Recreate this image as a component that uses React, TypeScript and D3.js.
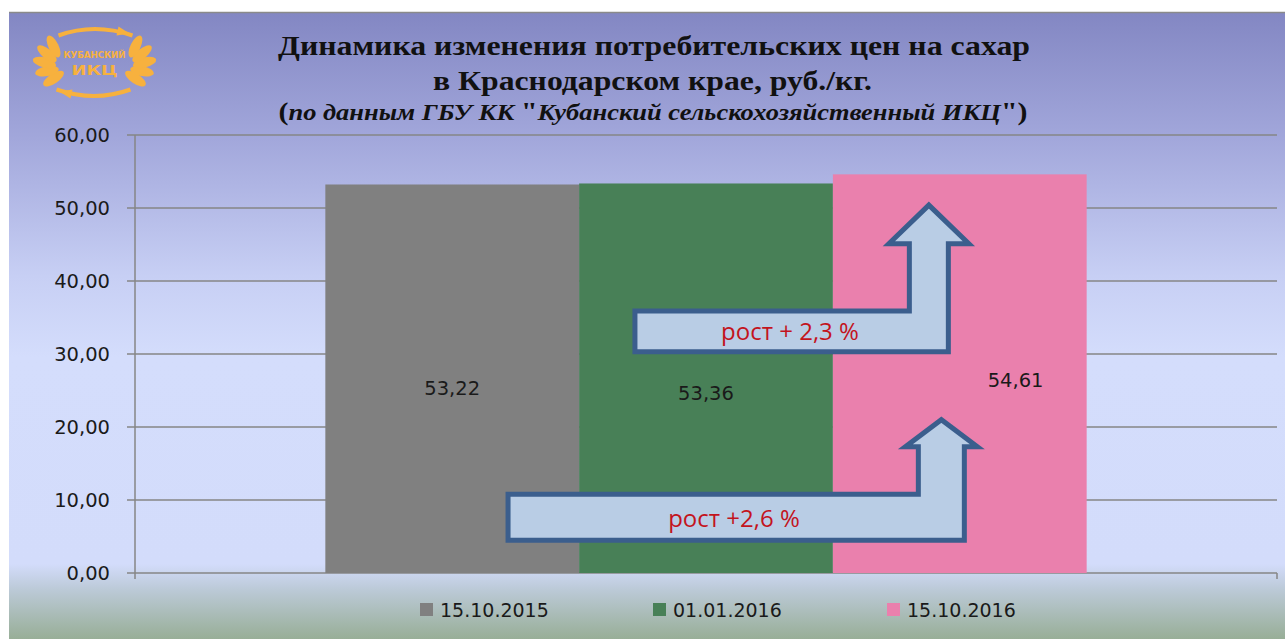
import React from "react";
import * as d3 from "d3";

const categories = ["15.10.2015", "01.01.2016", "15.10.2016"];
const values = [53.22, 53.36, 54.61];
const colors = ["#808080", "#488057", "#ea80ad"];
const yTicks = [0, 10, 20, 30, 40, 50, 60];
const titleLines = ["Динамика изменения потребительских цен на сахар", "в Краснодарском крае, руб./кг."];
const subtitleParts = [
  { t: "(", it: false },
  { t: "по данным ГБУ КК ", it: true },
  { t: "\"", it: false },
  { t: "Кубанский сельскохозяйственный ИКЦ", it: true },
  { t: "\")", it: false },
];
const growthLabels = ["рост + 2,3 %", "рост +2,6 %"];

const W = 1285;
const H = 639;
const fmt = (v: number) => v.toFixed(2).replace(".", ",");

export default function App() {
  const plot = { left: 135, right: 1277, top: 135, bottom: 573 };
  const y = d3.scaleLinear().domain([0, 60]).range([plot.bottom, plot.top]);
  const outer = d3.scaleBand().domain(["c"]).range([plot.left, plot.right]).paddingInner(0).paddingOuter(0);
  // gap width 150%
  const band = outer.bandwidth();
  const barsW = band / (1 + 1.5 / 3);
  const x0 = (outer("c") as number) + (band - barsW) / 2;
  const x = d3.scaleBand().domain(categories).range([x0, x0 + barsW]).padding(0);
  const bw = x.bandwidth();

  const labelShift = [
    { dx: 0, dv: -1.2 },
    { dx: 0, dv: -2.0 },
    { dx: 0.22, dv: -0.8 },
  ];

  const arrowPath = (
    xl: number, xr: number, shaftW: number, headHalf: number,
    vBodyTop: number, vBodyBot: number, vHeadBase: number, vTip: number
  ) => {
    const xsL = xr - shaftW;
    const xc = xr - shaftW / 2;
    const p = d3.path();
    p.moveTo(xl, y(vBodyBot));
    p.lineTo(xr, y(vBodyBot));
    p.lineTo(xr, y(vHeadBase));
    p.lineTo(xc + headHalf, y(vHeadBase));
    p.lineTo(xc, y(vTip));
    p.lineTo(xc - headHalf, y(vHeadBase));
    p.lineTo(xsL, y(vHeadBase));
    p.lineTo(xsL, y(vBodyTop));
    p.lineTo(xl, y(vBodyTop));
    p.closePath();
    return p.toString();
  };

  const xs = (i: number, f: number) => (x(categories[i]) as number) + f * bw;

  const upper = arrowPath(xs(1, 0.22), xs(2, 0.455), 39, 40, 35.9, 30.3, 45.1, 50.4);
  const lower = arrowPath(xs(0, 0.72), xs(2, 0.518), 46, 36, 10.8, 4.5, 17.3, 21.0);

  const legendX = [420, 653, 887];

  const orange = "#f7b13e";
  const leafAngles = [145, 162, 180, 198, 215];

  return (
    <svg width={W} height={H} style={{ position: "absolute", left: 0, top: 0 }} xmlns="http://www.w3.org/2000/svg">
      <defs>
        <linearGradient id="bg" x1="0" y1="0" x2="0" y2="1">
          <stop offset="0" stopColor="#8387c3" />
          <stop offset="0.2" stopColor="#a2a7db" />
          <stop offset="0.42" stopColor="#c7cff4" />
          <stop offset="0.55" stopColor="#d4ddfc" />
          <stop offset="0.88" stopColor="#d3dcfb" />
          <stop offset="0.92" stopColor="#bccad8" />
          <stop offset="1" stopColor="#98ae97" />
        </linearGradient>
      </defs>
      <rect x={0} y={0} width={W} height={H} fill="#ffffff" />
      <rect x={9} y={13} width={W - 9} height={H - 13} fill="url(#bg)" />
      <line x1={9} x2={W} y1={12.5} y2={12.5} stroke="#8a8a8a" strokeWidth={1.5} />

      {/* logo */}
      <g transform="translate(94.5,62.5)">
        {leafAngles.map((a, i) => {
          const r = (a * Math.PI) / 180;
          const cx = 50 * Math.cos(r);
          const cy = 28 * Math.sin(r);
          const rot = (a - 180) * 1.4 + 15;
          return (
            <g key={i}>
              <ellipse cx={cx} cy={cy} rx={12} ry={5} fill={orange}
                transform={`rotate(${rot},${cx},${cy})`} />
              <ellipse cx={-cx} cy={cy} rx={12} ry={5} fill={orange}
                transform={`rotate(${-rot},${-cx},${cy})`} />
            </g>
          );
        })}
        <path d="M -36,-27 Q 0,-40 38,-27" fill="none" stroke={orange} strokeWidth={4} />
        <path d="M -38,27 Q 0,40 36,27" fill="none" stroke={orange} strokeWidth={4} />
        <path d="M 24,-36 L 35,-29 L 22,-27 Z" fill={orange} />
        <path d="M -24,36 L -35,29 L -22,27 Z" fill={orange} />
        <text x={0} y={-5} textAnchor="middle" fontFamily="DejaVu Sans" fontWeight="bold" fontSize={8} fill={orange} textLength={62} lengthAdjust="spacingAndGlyphs">КУБАНСКИЙ</text>
        <text x={0} y={12} textAnchor="middle" fontFamily="DejaVu Sans" fontWeight="bold" fontSize={14} fill={orange} textLength={46} lengthAdjust="spacingAndGlyphs">ИКЦ</text>
      </g>

      {/* title */}
      <text x={654} y={55} textAnchor="middle" fontFamily="Liberation Serif" fontWeight="bold" fontSize={28} fill="#111" textLength={752} lengthAdjust="spacingAndGlyphs">{titleLines[0]}</text>
      <text x={652.5} y={90} textAnchor="middle" fontFamily="Liberation Serif" fontWeight="bold" fontSize={28} fill="#111" textLength={439} lengthAdjust="spacingAndGlyphs">{titleLines[1]}</text>
      <text x={653} y={120} textAnchor="middle" fontFamily="Liberation Serif" fontWeight="bold" fontSize={23} fill="#111" textLength={749} lengthAdjust="spacingAndGlyphs">
        {subtitleParts.map((p, i) => (
          <tspan key={i} fontStyle={p.it ? "italic" : "normal"} fontSize={p.it ? 23 : 26}>{p.t}</tspan>
        ))}
      </text>

      {/* gridlines and y axis */}
      {yTicks.map((t) => (
        <g key={t}>
          <line x1={plot.left - 8} x2={plot.right} y1={y(t)} y2={y(t)} stroke="#868686" strokeWidth={1.5} />
          <text x={110} y={y(t) + 7} textAnchor="end" fontFamily="DejaVu Sans" fontSize={19.5} fill="#1a1a1a">{fmt(t)}</text>
        </g>
      ))}
      <line x1={plot.left} x2={plot.left} y1={plot.top} y2={plot.bottom + 6} stroke="#868686" strokeWidth={1.5} />
      <line x1={plot.right} x2={plot.right} y1={plot.bottom} y2={plot.bottom + 6} stroke="#868686" strokeWidth={1.5} />

      {/* bars */}
      {categories.map((c, i) => (
        <rect key={c} x={x(c)} y={y(values[i])} width={bw} height={y(0) - y(values[i])} fill={colors[i]} />
      ))}

      {/* arrows */}
      <path d={upper} fill="#b9cde5" stroke="#3b5e8d" strokeWidth={5} strokeLinejoin="miter" />
      <path d={lower} fill="#b9cde5" stroke="#3b5e8d" strokeWidth={5} strokeLinejoin="miter" />
      <text x={790} y={y(31.9)} textAnchor="middle" fontFamily="Open Sans" fontSize={24} fill="#c3141d">{growthLabels[0]}</text>
      <text x={734} y={y(6.3)} textAnchor="middle" fontFamily="Open Sans" fontSize={24} fill="#c3141d">{growthLabels[1]}</text>

      {/* data labels */}
      {categories.map((c, i) => (
        <text key={c} x={(x(c) as number) + bw / 2 + labelShift[i].dx * bw} y={y(values[i] / 2 + labelShift[i].dv) + 7}
          textAnchor="middle" fontFamily="DejaVu Sans" fontSize={19.5} fill="#1a1a1a">{fmt(values[i])}</text>
      ))}

      {/* legend */}
      {categories.map((c, i) => (
        <g key={c}>
          <rect x={legendX[i]} y={603} width={13} height={13} fill={colors[i]} />
          <text x={legendX[i] + 20} y={617} fontFamily="DejaVu Sans" fontSize={19} fill="#1a1a1a">{c}</text>
        </g>
      ))}
    </svg>
  );
}
